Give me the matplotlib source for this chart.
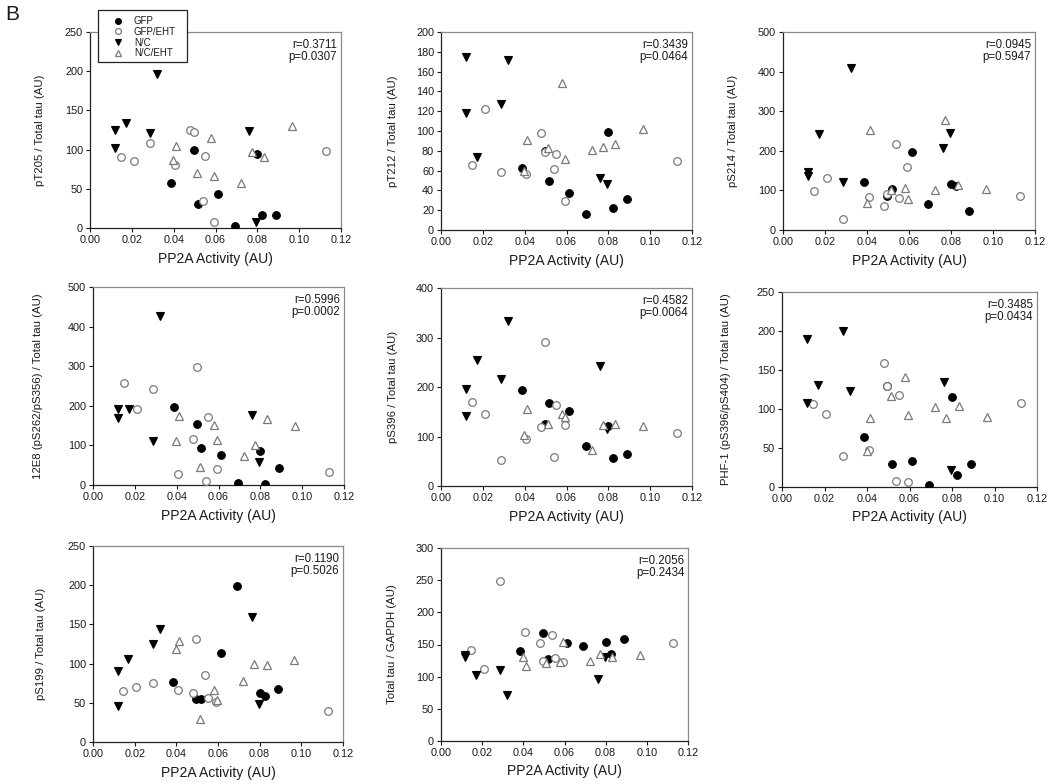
import matplotlib
matplotlib.use('Agg')
import matplotlib.pyplot as plt
from matplotlib.lines import Line2D
from matplotlib.patches import Rectangle

plt.rcParams['font.family'] = ['Liberation Sans', 'DejaVu Sans']

W, H = 1050, 784

# shared PP2A activity (x) per group
x_gfp = [0.0386, 0.0495, 0.0518, 0.0613, 0.0692, 0.0800, 0.0824, 0.0888]
x_gfp_eht = [0.0146, 0.0208, 0.0286, 0.0408, 0.0480, 0.0495, 0.0538, 0.0552, 0.0592, 0.1127]
x_nc = [0.0119, 0.0119, 0.0170, 0.0286, 0.0322, 0.0762, 0.0795]
x_nc_eht = [0.0398, 0.0413, 0.0512, 0.0580, 0.0595, 0.0722, 0.0773, 0.0833, 0.0965]

groups = ['GFP', 'GFP/EHT', 'N/C', 'N/C/EHT']

# y values per panel: [GFP, GFP/EHT, N/C, N/C/EHT]
pT205 = [[58, 99, 31, 44, 2, 94, 17, 16],
         [91, 86, 108, 80, 125, 122, 34, 92, 8, 98],
         [125, 102, 134, 121, 196, 124, 8],
         [87, 105, 70, 115, 66, 57, 97, 90, 130]]
pT212 = [[63, 80, 49, 37, 16, 99, 22, 31],
         [66, 122, 59, 57, 98, 79, 62, 77, 29, 70],
         [175, 118, 74, 127, 172, 53, 46],
         [60, 91, 83, 148, 72, 81, 84, 87, 102]]
pS214 = [[121, 85, 104, 197, 65, 117, 110, 47],
         [99, 131, 29, 83, 60, 90, 217, 81, 158, 86],
         [147, 137, 242, 122, 410, 206, 244],
         [68, 253, 100, 107, 79, 101, 278, 113, 103]]
e12E8 = [[196, 155, 93, 75, 6, 86, 2, 43],
         [258, 192, 242, 29, 116, 299, 11, 172, 40, 33],
         [192, 169, 193, 111, 427, 176, 57],
         [110, 173, 45, 152, 114, 73, 101, 167, 148]]
pS396 = [[194, 125, 168, 152, 80, 121, 56, 64],
         [170, 145, 53, 95, 120, 290, 59, 164, 123, 108],
         [195, 141, 254, 216, 334, 242, 115],
         [103, 155, 125, 146, 140, 72, 123, 126, 121]]
phf1 = [[64, 129, 30, 33, 2, 115, 16, 29],
        [106, 93, 40, 48, 159, 130, 8, 118, 6, 108],
        [190, 108, 131, 200, 123, 134, 22],
        [46, 89, 117, 141, 92, 103, 89, 104, 90]]
pS199 = [[76, 55, 55, 114, 199, 63, 59, 68],
         [65, 70, 75, 66, 63, 132, 85, 56, 51, 40],
         [90, 46, 106, 125, 144, 160, 49],
         [119, 129, 29, 66, 54, 78, 99, 98, 105]]
total_tau = [[140, 168, 127, 152, 147, 154, 135, 158],
             [141, 112, 248, 169, 152, 124, 165, 129, 123, 153],
             [134, 130, 103, 110, 71, 97, 131],
             [130, 116, 122, 123, 154, 124, 135, 131, 134]]

ylabels = ['pT205 / Total tau (AU)', 'pT212 / Total tau (AU)', 'pS214 / Total tau (AU)',
           '12E8 (pS262/pS356) / Total tau (AU)', 'pS396 / Total tau (AU)',
           'PHF-1 (pS396/pS404) / Total tau (AU)', 'pS199 / Total tau (AU)',
           'Total tau / GAPDH (AU)']
r_vals = ['0.3711', '0.3439', '0.0945', '0.5996', '0.4582', '0.3485', '0.1190', '0.2056']
p_vals = ['0.0307', '0.0464', '0.5947', '0.0002', '0.0064', '0.0434', '0.5026', '0.2434']
ymax = [250, 200, 500, 500, 400, 250, 250, 300]
ystep = [50, 20, 100, 100, 100, 50, 50, 50]
xticks = [0.00, 0.02, 0.04, 0.06, 0.08, 0.10, 0.12]
panels = [pT205, pT212, pS214, e12E8, pS396, phf1, pS199, total_tau]
xs = [x_gfp, x_gfp_eht, x_nc, x_nc_eht]

# axes boxes in pixels (left, top, right, bottom)
boxes = [(90, 32, 341, 228), (441, 32, 692, 230), (783, 32, 1035, 230),
         (93, 287, 344, 485), (441, 288, 692, 486), (782, 292, 1037, 487),
         (93, 546, 343, 742), (441, 548, 688, 741)]
ylab_x = [-0.18, -0.17, -0.18, -0.20, -0.17, -0.20, -0.19, -0.18]

gray = '#7a7a7a'
styles = [dict(marker='o', ms=5.5, mfc='black', mec='black', mew=0.8),
          dict(marker='o', ms=5.5, mfc='white', mec=gray, mew=0.9),
          dict(marker='v', ms=6, mfc='black', mec='black', mew=0.8),
          dict(marker='^', ms=6, mfc='white', mec=gray, mew=0.9)]

fig = plt.figure(figsize=(W / 100, H / 100), dpi=100)
fig.patch.set_facecolor('white')

tc = '#1a1a1a'
for i, (data, box) in enumerate(zip(panels, boxes)):
    l, t, r, b = box
    ax = fig.add_axes([l / W, 1 - b / H, (r - l) / W, (b - t) / H])
    for gx, gy, st in zip(xs, data, styles):
        ax.plot(gx, gy, ls='none', **st, zorder=3)
    ax.set_xlim(0, 0.12)
    ax.set_ylim(0, ymax[i])
    ax.set_xticks(xticks)
    ax.set_xticklabels(['%.2f' % v for v in xticks])
    ax.set_yticks(list(range(0, ymax[i] + 1, ystep[i])))
    ax.tick_params(direction='out', length=3, width=0.8, labelsize=7.8,
                   colors=tc, pad=2, top=False, right=False)
    for s in ['left', 'bottom']:
        ax.spines[s].set_color('#222222')
        ax.spines[s].set_linewidth(0.9)
    for s in ['top', 'right']:
        ax.spines[s].set_color('#8a8a8a')
        ax.spines[s].set_linewidth(0.9)
    ax.set_ylabel(ylabels[i], fontsize=8.2, color=tc)
    ax.yaxis.set_label_coords(ylab_x[i], 0.5)
    ax.set_xlabel('PP2A Activity (AU)', fontsize=10, color=tc, va='top')
    ax.xaxis.set_label_coords(0.5, -0.12)
    ax.text(0.985, 0.965, 'r=%s\np=%s' % (r_vals[i], p_vals[i]), transform=ax.transAxes,
            ha='right', va='top', fontsize=8.3, color=tc, linespacing=1.0)

# legend (panel 1)
leg_styles = [dict(st, ms=4.2) for st in styles]
handles = [Line2D([], [], ls='none', **st) for st in leg_styles]
leg = fig.legend(handles, groups, loc='upper left',
                 bbox_to_anchor=(108 / W, 1 - 16 / H), bbox_transform=fig.transFigure,
                 fontsize=7, frameon=False, borderpad=0, labelspacing=0.08,
                 handlelength=2.0, handletextpad=0.65, borderaxespad=0)
for txt in leg.get_texts():
    txt.set_color(tc)
leg.set_zorder(10)
fig.patches.append(Rectangle((98 / W, 1 - 62 / H), 89 / W, 52 / H, transform=fig.transFigure,
                             facecolor='white', edgecolor='#222222', lw=0.9, zorder=9))

fig.text(5 / W, 1 - 15 / H, 'B', fontsize=15, ha='left', va='center', color=tc)

fig.savefig('out.png', dpi=100, facecolor='white')
